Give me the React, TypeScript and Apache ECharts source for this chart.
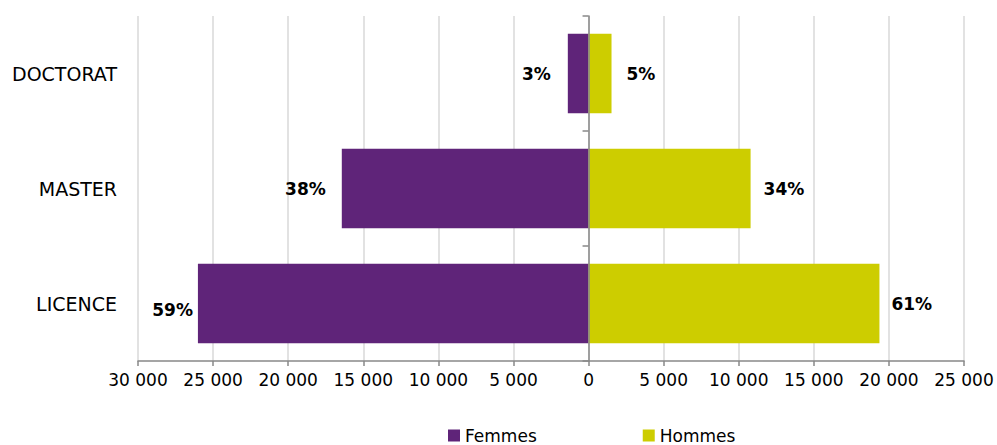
import React, { useEffect, useRef } from "react";
import * as echarts from "echarts";

// Degree levels, bottom to top
const categories = ["LICENCE", "MASTER", "DOCTORAT"];
// Headcounts per level
const femmes = [26010, 16430, 1380];
const hommes = [19370, 10790, 1530];
// Share of each level within each sex (label text)
const femmesPct = ["59%", "38%", "3%"];
const hommesPct = ["61%", "34%", "5%"];

const FONT = "DejaVu Sans";
const PURPLE = "#5f2479";
const YELLOW = "#cdcd00";

const fmt = (v: number) =>
  String(Math.abs(v)).replace(/\B(?=(\d{3})+(?!\d))/g, " ");

export default function App() {
  const ref = useRef<HTMLDivElement>(null);

  useEffect(() => {
    document.body.style.margin = "0";
    if (!ref.current) return;
    const chart = echarts.init(ref.current, null, { renderer: "svg" });

    const femmesDist = [5, 16, 17];
    const femmesOff = [6, 0, 0];
    const hommesDist = [12, 13, 15];

    chart.setOption({
      animation: false,
      textStyle: { fontFamily: FONT },
      legend: {
        bottom: -4,
        left: 443,
        itemWidth: 12,
        itemHeight: 12,
        itemGap: 106,
        icon: "rect",
        textStyle: { fontFamily: FONT, fontSize: 17, color: "#000" },
        data: ["Femmes", "Hommes"],
      },
      grid: { left: 138, right: 33, top: 16, bottom: 84 },
      xAxis: {
        type: "value",
        min: -30000,
        max: 25000,
        interval: 5000,
        axisLine: { show: true, onZero: false, lineStyle: { color: "#888", width: 1.5 } },
        axisTick: { show: true, length: 5, lineStyle: { color: "#888", width: 1.5 } },
        splitLine: { show: true, lineStyle: { color: "#d9d9d9", width: 1.5 } },
        axisLabel: {
          margin: 10,
          fontFamily: FONT,
          fontSize: 17,
          color: "#000",
          formatter: (v: number) => fmt(v),
        },
      },
      yAxis: [
        {
          type: "category",
          data: categories,
          position: "left",
          axisLine: { show: false, onZero: false },
          axisTick: { show: false },
          axisLabel: { margin: 21, fontFamily: FONT, fontSize: 19, color: "#000" },
        },
        {
          type: "category",
          data: categories,
          position: "left",
          axisLine: {
            show: true,
            onZero: true,
            onZeroAxisIndex: 0,
            lineStyle: { color: "#888", width: 1.5 },
          },
          axisTick: { show: true, length: 6, lineStyle: { color: "#888", width: 1.5 } },
          axisLabel: { show: false },
          z: 5,
        },
      ],
      series: [
        {
          name: "Femmes",
          type: "bar",
          stack: "total",
          yAxisIndex: 0,
          barCategoryGap: "31%",
          itemStyle: { color: PURPLE },
          data: femmes.map((v, i) => ({
            value: -v,
            label: {
              show: true,
              position: "left",
              distance: femmesDist[i],
              offset: [0, femmesOff[i]],
              formatter: femmesPct[i],
              fontFamily: FONT,
              fontWeight: "bold",
              fontSize: 17,
              color: "#000",
            },
          })),
        },
        {
          name: "Hommes",
          type: "bar",
          stack: "total",
          yAxisIndex: 0,
          barCategoryGap: "31%",
          itemStyle: { color: YELLOW },
          data: hommes.map((v, i) => ({
            value: v,
            label: {
              show: true,
              position: "right",
              distance: hommesDist[i],
              formatter: hommesPct[i],
              fontFamily: FONT,
              fontWeight: "bold",
              fontSize: 17,
              color: "#000",
            },
          })),
        },
      ],
    });

    return () => chart.dispose();
  }, []);

  return <div ref={ref} style={{ width: 997, height: 445 }} />;
}
